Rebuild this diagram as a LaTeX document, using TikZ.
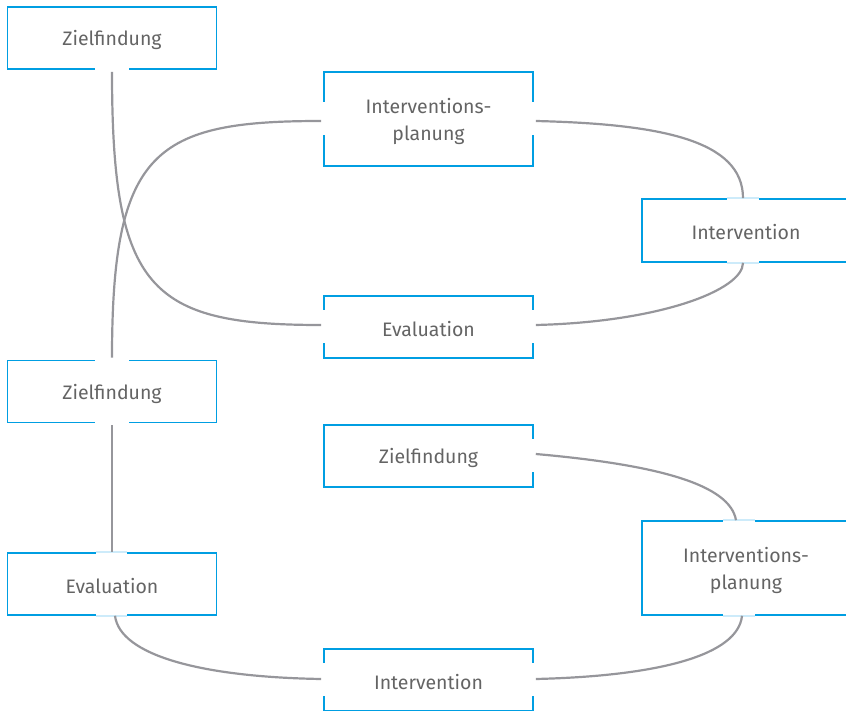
\documentclass[tikz,border=0pt]{standalone}
\usepackage{fontspec}
\setmainfont{Fira Sans}
\definecolor{boxblue}{RGB}{0,158,226}
\definecolor{gaplight}{RGB}{205,235,250}
\definecolor{linegray}{RGB}{150,150,155}
\definecolor{txtgray}{RGB}{100,100,100}
\begin{document}
\begin{tikzpicture}[x=1pt,y=-1pt,
  box/.style={draw=boxblue, line width=1.6pt, minimum width=209pt, minimum height=62pt,
    inner sep=0pt},
  lbl/.style={text=txtgray, font=\fontsize{19.5}{27}\selectfont, align=center, yshift=-2pt, inner sep=0pt},
  tall/.style={minimum height=94pt},
  conn/.style={draw=linegray, line width=2.2pt},
  gapw/.style={draw=white, line width=3.2pt},
  gapl/.style={draw=gaplight, line width=1.6pt}]
\useasboundingbox (0,0) rectangle (846,711);
% boxes
\node[box,label={[lbl]center:Zielfindung}] (z1) at (112,38) {};
\node[box,tall,label={[lbl]center:Interventions-\\planung}] (ip1) at (428.5,119) {};
\node[box,minimum width=208pt,minimum height=63pt,label={[lbl]center:Intervention}] (iv1) at (746,230.5) {};
\node[box,label={[lbl]center:Evaluation}] (ev1) at (428.5,327) {};
\node[box,label={[lbl]center:Zielfindung}] (z2) at (112,391.5) {};
\node[box,label={[lbl]center:Zielfindung}] (z3) at (428.5,456) {};
\node[box,tall,minimum width=208pt,label={[lbl]center:Interventions-\\planung}] (ip2) at (746,568) {};
\node[box,label={[lbl]center:Evaluation}] (ev2) at (112,584) {};
\node[box,label={[lbl]center:Intervention}] (iv2) at (428.5,680) {};
% gaps (white)
\draw[gapw] ([xshift=-17pt]z1.south) -- ([xshift=17pt]z1.south);
\draw[gapw] ([yshift=-16pt]ip1.west) -- ([yshift=17pt]ip1.west);
\draw[gapw] ([yshift=-16pt]ip1.east) -- ([yshift=17pt]ip1.east);
\draw[gapw] ([yshift=-16pt]ev1.west) -- ([yshift=17pt]ev1.west);
\draw[gapw] ([yshift=-16pt]ev1.east) -- ([yshift=17pt]ev1.east);
\draw[gapw] ([xshift=-17pt]z2.north) -- ([xshift=17pt]z2.north);
\draw[gapw] ([xshift=-17pt]z2.south) -- ([xshift=17pt]z2.south);
\draw[gapw] ([yshift=-16pt]z3.east) -- ([yshift=17pt]z3.east);
\draw[gapw] ([yshift=-16pt]iv2.west) -- ([yshift=17pt]iv2.west);
\draw[gapw] ([yshift=-16pt]iv2.east) -- ([yshift=17pt]iv2.east);
% gaps (light)
\foreach \a in {iv1.north,iv1.south}{
  \draw[gapw] ([xshift=-19pt]\a) -- ([xshift=13pt]\a);
  \draw[gapl] ([xshift=-19pt]\a) -- ([xshift=13pt]\a);}
\foreach \a in {ip2.north,ip2.south}{
  \draw[gapw] ([xshift=-23pt]\a) -- ([xshift=9pt]\a);
  \draw[gapl] ([xshift=-23pt]\a) -- ([xshift=9pt]\a);}
\foreach \a in {ev2.north,ev2.south}{
  \draw[gapw] ([xshift=-16pt]\a) -- ([xshift=15pt]\a);
  \draw[gapl] ([xshift=-16pt]\a) -- ([xshift=15pt]\a);}
% connectors
\draw[conn] ([yshift=-2pt]z1.south) .. controls (112,290) and (150,325) .. ([xshift=-2pt,yshift=2pt]ev1.west);
\draw[conn] ([yshift=2pt]z2.north) .. controls (112,150) and (155,121) .. ([xshift=-2pt,yshift=-2pt]ip1.west);
\draw[conn] ([xshift=2pt,yshift=-2pt]ip1.east) .. controls (660,124) and (743,140) .. ([xshift=-3pt]iv1.north);
\draw[conn] ([xshift=-3pt]iv1.south) .. controls (743,290) and (660,322) .. ([xshift=2pt,yshift=2pt]ev1.east);
\draw[conn] ([yshift=-2pt]z2.south) -- (ev2.north);
\draw[conn] ([xshift=3pt]ev2.south) .. controls (120,655) and (200,677) .. ([xshift=-2pt,yshift=1pt]iv2.west);
\draw[conn] ([xshift=2pt,yshift=1pt]iv2.east) .. controls (660,676) and (738,655) .. ([xshift=-4pt]ip2.south);
\draw[conn] ([xshift=2pt,yshift=2pt]z3.east) .. controls (660,465) and (730,485) .. ([xshift=-10pt]ip2.north);
\end{tikzpicture}
\end{document}
